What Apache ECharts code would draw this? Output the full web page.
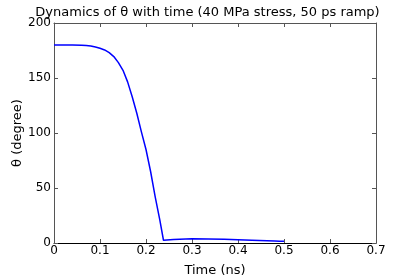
<!DOCTYPE html>
<html><head><meta charset="utf-8">
<script src="https://cdn.jsdelivr.net/npm/echarts@6/dist/echarts.min.js"></script>
<style>html,body{margin:0;padding:0;background:#fff}#c{width:415px;height:277px}</style>
</head><body><div id="c"></div>
<script>
const timeNs = [0, 0.02, 0.04, 0.06, 0.07, 0.08, 0.09, 0.10, 0.11, 0.12, 0.13, 0.14, 0.15, 0.16, 0.17, 0.18, 0.19, 0.20, 0.21, 0.22, 0.23, 0.238, 0.26, 0.30, 0.37, 0.43, 0.48, 0.49, 0.50];
const thetaDeg = [180, 180, 180, 179.8, 179.5, 179, 178.2, 177, 175.5, 173, 169.5, 164, 157, 146.5, 133, 118, 101, 85, 65, 42, 21, 2.5, 3.2, 3.8, 3.4, 2.5, 1.8, 1.5, 1.5];
const xTicks = [0, 0.1, 0.2, 0.3, 0.4, 0.5, 0.6, 0.7];
const yTicks = [0, 50, 100, 150, 200];
const titleText = 'Dynamics of θ with time (40 MPa stress, 50 ps ramp)';
const xName = 'Time (ns)';
const yName = 'θ (degree)';

const font = 'DejaVu Sans';
const chart = echarts.init(document.getElementById('c'), null, {renderer: 'canvas'});
const data = timeNs.map((t, i) => [t, thetaDeg[i]]);
const axisCommon = {
  axisLine: {show: true, onZero: false, lineStyle: {color: '#555', width: 1}},
  axisTick: {show: true, inside: true, length: 4, lineStyle: {color: '#555'}},
  splitLine: {show: false}
};
chart.setOption({
  animation: false,
  title: {text: titleText, left: 'center', top: 1, textStyle: {fontFamily: font, fontSize: 13, fontWeight: 'normal', color: '#000'}},
  grid: {left: 54, right: 39, top: 23, bottom: 34, containLabel: false, outerBoundsMode: 'none'},
  xAxis: [
    Object.assign({}, axisCommon, {
      type: 'value', min: 0, max: 0.7, interval: 0.1,
      name: xName, nameLocation: 'middle', nameGap: 21, nameMoveOverlap: false,
      nameTextStyle: {fontFamily: font, fontSize: 13, color: '#000'},
      axisLine: {show: true, onZero: false, lineStyle: {color: '#000', width: 1}},
      axisLabel: {fontFamily: font, fontSize: 12, color: '#000', margin: 2,
        formatter: v => { const s = xTicks.find(t => Math.abs(t - v) < 1e-9); return s === undefined ? '' : String(s); }}
    }),
    Object.assign({}, axisCommon, {
      type: 'value', min: 0, max: 0.7, interval: 0.1, position: 'top', axisLabel: {show: false}
    })
  ],
  yAxis: [
    Object.assign({}, axisCommon, {
      type: 'value', min: 0, max: 200, interval: 50,
      name: yName, nameLocation: 'middle', nameGap: 30, nameMoveOverlap: false,
      nameTextStyle: {fontFamily: font, fontSize: 13, color: '#000'},
      axisLabel: {fontFamily: font, fontSize: 12, color: '#000', margin: 3,
        formatter: v => yTicks.includes(v) ? String(v) : ''}
    }),
    Object.assign({}, axisCommon, {
      type: 'value', min: 0, max: 200, interval: 50, position: 'right', axisLabel: {show: false}
    })
  ],
  series: [{
    type: 'line', data: data, showSymbol: false, smooth: false,
    lineStyle: {color: '#0000ff', width: 1.5}, xAxisIndex: 0, yAxisIndex: 0
  }]
});
</script></body></html>
